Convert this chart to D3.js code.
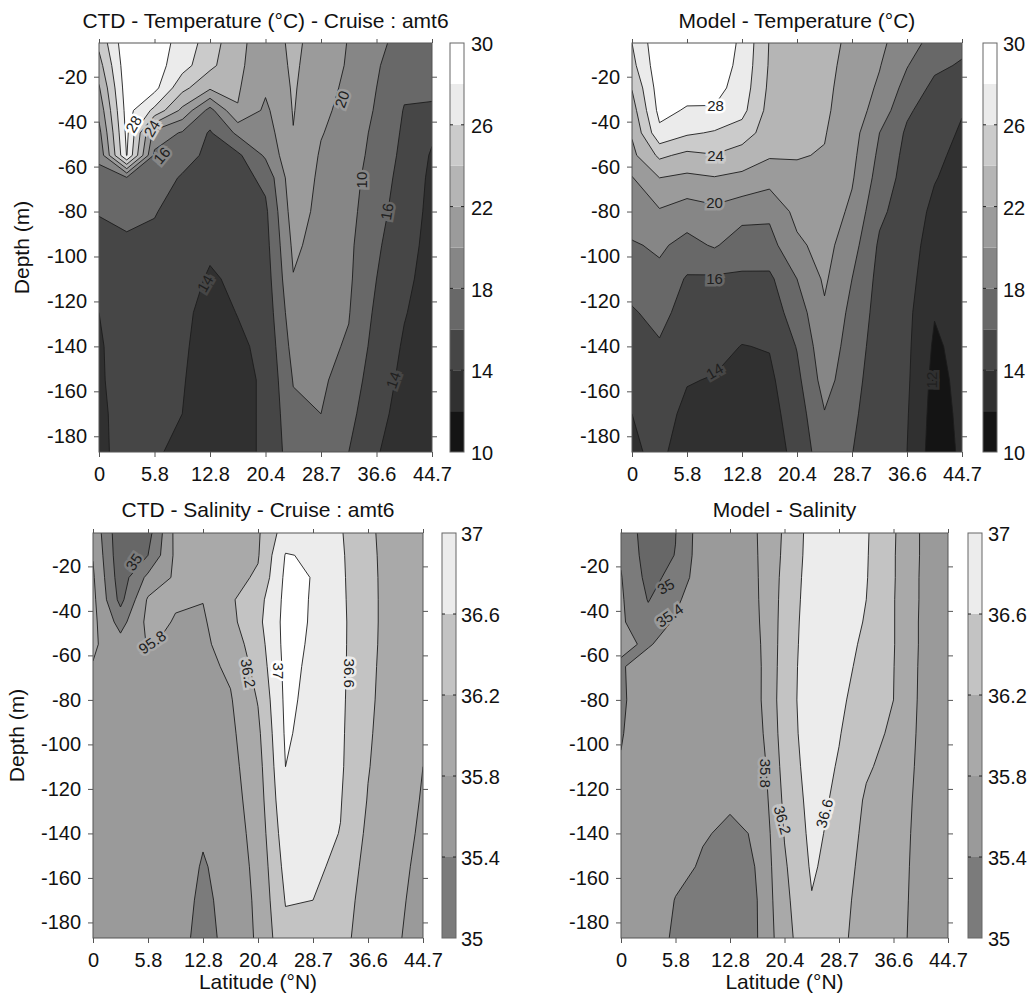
<!DOCTYPE html>
<html>
<head>
<meta charset="utf-8">
<script src="https://cdn.jsdelivr.net/npm/d3@7"></script>
<style>
  body { margin: 0; background: #fff; }
  svg { display: block; font-family: "Liberation Sans", Arial, sans-serif; }
</style>
</head>
<body>
<svg id="chart" width="1030" height="998"></svg>
<script>
// station latitudes (tick every second station) and sample depths (m)
const latLabels = ["0", "5.8", "12.8", "20.4", "28.7", "36.6", "44.7"];
const depths = [5, 15, 25, 35, 45, 55, 65, 80, 95, 110, 125, 140, 155, 170, 187];
const depthTicks = [-20, -40, -60, -80, -100, -120, -140, -160, -180];

const tempLevels = [10, 12, 14, 16, 18, 20, 22, 24, 26, 28];
const tempColors = ["#141414", "#303030", "#464646", "#686868", "#868686", "#9b9b9b", "#b5b5b5", "#cbcbcb", "#ebebeb", "#ffffff"];
const tempBar = [10, 14, 18, 22, 26, 30];

const salLevels = [35, 35.4, 35.8, 36.2, 36.6, 37];
const salBelow = "#676767";
const salColors = ["#7b7b7b", "#9a9a9a", "#a9a9a9", "#c3c3c3", "#ececec", "#ffffff"];
const salBar = [35, 35.4, 35.8, 36.2, 36.6, 37];

// one array per station, values from surface (5 m) down to 187 m
const ctdTemp = [
  [24.5, 23.2, 21.8, 20.6, 19.4, 18.4, 17.4, 16.1, 15.4, 15.0, 14.0, 13.8, 13.8, 13.7, 13.7],
  [29.5, 29.3, 29.1, 28.8, 28.5, 28.1, 17.8, 16.6, 15.6, 15.3, 15.1, 14.9, 14.7, 14.6, 14.5],
  [29.0, 28.9, 28.6, 25.5, 19.2, 17.6, 17.0, 16.1, 15.6, 15.3, 15.0, 14.7, 14.4, 14.2, 14.1],
  [27.3, 26.8, 24.6, 21.5, 17.8, 16.8, 15.8, 15.3, 15.0, 14.7, 14.4, 14.3, 14.15, 14.0, 13.8],
  [25.0, 24.5, 22.3, 17.3, 15.8, 15.5, 15.2, 14.8, 14.3, 13.8, 13.4, 13.1, 12.9, 12.8, 12.7],
  [22.5, 22.4, 22.2, 21.9, 18.4, 15.6, 15.2, 14.9, 14.6, 14.3, 14.05, 13.7, 13.6, 13.7, 13.8],
  [21.0, 20.8, 20.3, 19.6, 19.0, 18.3, 16.5, 15.6, 15.3, 15.0, 14.7, 14.4, 14.2, 14.15, 14.1],
  [22.4, 22.3, 22.2, 22.1, 21.95, 21.7, 21.4, 21.0, 20.4, 19.9, 19.3, 18.7, 18.1, 17.6, 17.2],
  [21.2, 21.0, 20.7, 20.4, 20.1, 19.8, 19.6, 19.4, 19.2, 19.0, 18.8, 18.5, 18.3, 18.0, 17.6],
  [19.9, 19.8, 19.6, 19.4, 19.2, 19.0, 18.8, 18.6, 18.4, 18.3, 18.1, 17.8, 17.2, 16.6, 16.0],
  [18.4, 18.2, 18.0, 17.8, 17.5, 17.3, 17.0, 16.7, 16.3, 16.0, 15.6, 15.2, 14.8, 14.5, 14.1],
  [17.4, 16.8, 16.3, 15.9, 15.7, 15.5, 15.3, 15.0, 14.7, 14.4, 14.1, 13.8, 13.6, 13.4, 13.3],
  [17.0, 16.7, 16.3, 15.8, 14.3, 13.8, 13.6, 13.5, 13.4, 13.3, 13.2, 13.2, 13.1, 13.1, 13.0]
];

const modelTemp = [
  [26.0, 25.4, 24.1, 23.1, 22.2, 21.5, 19.9, 19.1, 17.8, 16.8, 15.8, 15.2, 14.6, 14.0, 13.8],
  [29.5, 29.3, 29.0, 28.6, 27.5, 24.4, 22.0, 19.8, 18.3, 17.5, 16.6, 15.8, 15.2, 14.7, 14.3],
  [29.6, 29.4, 28.8, 27.8, 26.3, 23.5, 21.6, 19.0, 17.4, 15.8, 15.2, 14.7, 14.1, 13.6, 13.3],
  [29.5, 29.2, 28.7, 27.8, 25.8, 23.9, 21.9, 19.5, 18.2, 15.7, 15.0, 14.5, 13.9, 13.5, 13.2],
  [27.6, 27.4, 27.1, 26.6, 25.1, 23.0, 21.6, 18.7, 17.0, 15.7, 14.8, 13.95, 13.5, 13.2, 13.0],
  [23.9, 23.8, 23.6, 23.3, 22.9, 22.2, 20.8, 18.4, 17.3, 15.6, 14.9, 14.1, 13.6, 13.3, 13.0],
  [23.2, 23.1, 22.9, 22.7, 22.4, 22.1, 21.6, 20.6, 19.6, 18.0, 17.0, 16.1, 15.5, 15.0, 14.6],
  [22.6, 22.5, 22.4, 22.3, 22.1, 21.9, 21.6, 21.2, 20.7, 20.3, 19.7, 19.3, 18.8, 17.9, 17.2],
  [21.6, 21.4, 21.2, 21.0, 20.8, 20.5, 20.2, 19.6, 18.8, 18.0, 17.5, 17.1, 16.7, 16.4, 16.05],
  [20.3, 20.1, 19.7, 19.2, 18.0, 17.6, 17.2, 16.4, 15.7, 15.4, 15.2, 15.0, 14.9, 14.7, 14.5],
  [19.2, 18.1, 17.3, 16.3, 15.7, 15.4, 15.2, 15.0, 14.8, 14.7, 14.5, 14.4, 14.3, 14.15, 14.0],
  [17.0, 16.4, 15.5, 15.0, 14.7, 14.4, 14.1, 13.6, 13.2, 12.7, 12.1, 11.7, 11.4, 11.2, 11.0],
  [16.5, 15.8, 15.0, 14.1, 13.8, 13.5, 13.3, 13.1, 12.9, 12.8, 12.7, 12.6, 12.5, 12.4, 12.3]
];

const ctdSal = [
  [35.7, 35.78, 35.85, 35.9, 35.9, 35.86, 35.78, 35.72, 35.68, 35.66, 35.65, 35.65, 35.65, 35.65, 35.65],
  [34.7, 34.72, 34.78, 34.88, 35.25, 35.55, 35.62, 35.66, 35.68, 35.7, 35.7, 35.7, 35.7, 35.7, 35.7],
  [34.85, 35.0, 35.5, 35.85, 35.9, 35.82, 35.75, 35.72, 35.72, 35.73, 35.74, 35.72, 35.68, 35.65, 35.65],
  [35.9, 35.88, 35.86, 35.83, 35.78, 35.75, 35.74, 35.74, 35.74, 35.74, 35.73, 35.7, 35.66, 35.62, 35.58],
  [35.95, 35.92, 35.88, 35.81, 35.75, 35.72, 35.7, 35.66, 35.62, 35.58, 35.52, 35.45, 35.36, 35.3, 35.25],
  [36.0, 36.02, 36.08, 36.15, 36.1, 35.98, 35.86, 35.77, 35.72, 35.68, 35.64, 35.6, 35.58, 35.56, 35.54],
  [36.15, 36.17, 36.25, 36.45, 36.5, 36.42, 36.35, 36.22, 36.12, 36.05, 36.0, 35.95, 35.9, 35.87, 35.85],
  [36.8, 37.02, 37.08, 37.1, 37.12, 37.12, 37.1, 37.08, 37.05, 37.0, 36.92, 36.82, 36.72, 36.62, 36.5],
  [36.85, 36.96, 36.99, 36.98, 36.97, 36.95, 36.93, 36.9, 36.86, 36.82, 36.77, 36.72, 36.67, 36.6, 36.5],
  [36.63, 36.65, 36.66, 36.67, 36.68, 36.68, 36.68, 36.67, 36.66, 36.65, 36.62, 36.59, 36.52, 36.45, 36.38],
  [36.3, 36.32, 36.33, 36.33, 36.33, 36.32, 36.3, 36.28, 36.25, 36.22, 36.18, 36.12, 36.05, 35.98, 35.92],
  [35.95, 35.96, 35.97, 35.98, 35.98, 35.98, 35.98, 35.97, 35.96, 35.95, 35.93, 35.9, 35.87, 35.85, 35.83],
  [35.9, 35.9, 35.9, 35.9, 35.9, 35.88, 35.86, 35.84, 35.82, 35.8, 35.78, 35.76, 35.74, 35.72, 35.7]
];

const modelSal = [
  [35.3, 35.36, 35.42, 35.45, 35.45, 35.43, 35.38, 35.36, 35.38, 35.42, 35.45, 35.48, 35.5, 35.52, 35.54],
  [34.8, 34.82, 34.88, 34.98, 35.15, 35.38, 35.5, 35.55, 35.58, 35.6, 35.6, 35.6, 35.6, 35.6, 35.6],
  [34.99, 35.01, 35.12, 35.33, 35.45, 35.5, 35.55, 35.58, 35.6, 35.6, 35.59, 35.54, 35.48, 35.39, 35.34],
  [35.64, 35.65, 35.66, 35.66, 35.66, 35.66, 35.65, 35.62, 35.58, 35.52, 35.47, 35.42, 35.37, 35.33, 35.3],
  [35.7, 35.7, 35.7, 35.7, 35.7, 35.7, 35.68, 35.64, 35.57, 35.49, 35.43, 35.36, 35.3, 35.28, 35.27],
  [35.8, 35.79, 35.78, 35.77, 35.75, 35.72, 35.7, 35.7, 35.64, 35.54, 35.48, 35.42, 35.41, 35.4, 35.39],
  [36.25, 36.27, 36.3, 36.32, 36.34, 36.36, 36.38, 36.4, 36.38, 36.34, 36.28, 36.22, 36.15, 36.1, 36.05],
  [36.75, 36.76, 36.78, 36.8, 36.82, 36.83, 36.84, 36.84, 36.82, 36.78, 36.74, 36.7, 36.65, 36.58, 36.52],
  [36.85, 36.85, 36.84, 36.82, 36.8, 36.77, 36.73, 36.67, 36.62, 36.57, 36.52, 36.47, 36.42, 36.37, 36.32],
  [36.64, 36.63, 36.62, 36.6, 36.57, 36.52, 36.48, 36.42, 36.35, 36.25, 36.15, 36.1, 36.05, 36.0, 35.97],
  [36.24, 36.23, 36.23, 36.22, 36.22, 36.22, 36.21, 36.2, 36.13, 36.06, 36.0, 35.97, 35.94, 35.92, 35.9],
  [35.78, 35.78, 35.77, 35.77, 35.76, 35.76, 35.75, 35.74, 35.73, 35.72, 35.71, 35.7, 35.7, 35.7, 35.7],
  [35.7, 35.7, 35.7, 35.7, 35.7, 35.69, 35.68, 35.67, 35.66, 35.65, 35.64, 35.63, 35.62, 35.62, 35.62]
];

// contour labels: [station index, depth, text, rotation, level]
const ctdTempLabels = [[1.24, 41, "28", -60, 28], [1.9, 43, "24", -60, 24], [2.26, 55, "16", -50, 18],
  [8.75, 30, "20", -70, 20], [9.47, 66, "10", -90, 18], [10.37, 80, "16", -80, 16],
  [10.6, 155, "14", -70, 14], [3.82, 112, "14", -60, 14]];
const modelTempLabels = [[3.04, 33, "28", 0, 28], [3.04, 55, "24", 0, 24], [3.0, 76, "20", 0, 20],
  [3.0, 110, "16", 0, 16], [3.0, 151, "14", -30, 14], [10.9, 155, "12", -90, 12]];
const ctdSalLabels = [[1.48, 18, "35", -55, 35], [2.15, 54, "95.8", -35, 35.8], [5.65, 68, "36.2", 80, 36.2],
  [6.74, 67, "37", 90, 37], [9.31, 68, "36.6", 90, 36.6]];
const modelSalLabels = [[1.64, 29, "35", -30, 35], [1.78, 42, "35.4", -35, 35.4], [5.29, 113, "35.8", 90, 35.8],
  [5.93, 134, "36.2", 75, 36.2], [7.46, 131, "36.6", -75, 36.6]];

const svg = d3.select("#chart");

const panels = [
  { id: "tl", title: "CTD - Temperature (°C) - Cruise : amt6", grid: ctdTemp, labels: ctdTempLabels, temp: true,
    x0: 99, x1: 432, y0: 43, y1: 452, barX: 450, barLabelX: 471, titleY: 28, depthLabelX: 29, latLabel: false },
  { id: "tr", title: "Model - Temperature (°C)", grid: modelTemp, labels: modelTempLabels, temp: true,
    x0: 632, x1: 962, y0: 43, y1: 452, barX: 983, barLabelX: 1003, titleY: 28, depthLabelX: null, latLabel: false },
  { id: "bl", title: "CTD - Salinity - Cruise : amt6", grid: ctdSal, labels: ctdSalLabels, temp: false,
    x0: 93, x1: 423, y0: 533, y1: 938, barX: 442, barLabelX: 461, titleY: 517, depthLabelX: 24, latLabel: true },
  { id: "br", title: "Model - Salinity", grid: modelSal, labels: modelSalLabels, temp: false,
    x0: 621, x1: 948, y0: 533, y1: 938, barX: 968, barLabelX: 988, titleY: 517, depthLabelX: null, latLabel: true }
];

function drawPanel(p) {
  const g = svg.append("g");
  const n = p.grid.length, m = depths.length;
  const levels = p.temp ? tempLevels : salLevels;
  const colors = p.temp ? tempColors : salColors;
  const base = p.temp ? tempColors[0] : salBelow;

  const kx = d3.scaleLinear().domain([0, n - 1]).range([p.x0, p.x1]);
  const y = d3.scaleLinear().domain([-5, -187]).range([p.y0, p.y1]);
  const rowDepth = d3.scaleLinear().domain(d3.range(m)).range(depths);

  const values = [];
  for (let j = 0; j < m; j++) for (let i = 0; i < n; i++) values.push(p.grid[i][j]);

  // grid cell centres sit at +0.5 in d3.contours coordinates
  const proj = d3.geoTransform({
    point: function(gx, gy) { this.stream.point(kx(gx - 0.5), y(-rowDepth(gy - 0.5))); }
  });
  const path = d3.geoPath(proj);
  const contours = d3.contours().size([n, m]).thresholds(levels)(values);

  g.append("clipPath").attr("id", "clip-" + p.id)
    .append("rect").attr("x", p.x0).attr("y", p.y0)
    .attr("width", p.x1 - p.x0).attr("height", p.y1 - p.y0);

  const plot = g.append("g").attr("clip-path", "url(#clip-" + p.id + ")");
  plot.append("rect").attr("x", p.x0).attr("y", p.y0)
    .attr("width", p.x1 - p.x0).attr("height", p.y1 - p.y0).attr("fill", base);
  plot.selectAll("path.band").data(contours).join("path")
    .attr("class", "band").attr("d", path)
    .attr("fill", (d, i) => colors[i]).attr("fill-rule", "evenodd");
  plot.selectAll("path.iso").data(contours).join("path")
    .attr("class", "iso").attr("d", path)
    .attr("fill", "none").attr("stroke", "#1c1c1c").attr("stroke-width", 0.9);

  // contour labels
  plot.selectAll("text.clab").data(p.labels).join("text")
    .attr("class", "clab")
    .attr("transform", d => `translate(${kx(d[0])},${y(-d[1])}) rotate(${d[3]})`)
    .attr("text-anchor", "middle").attr("dominant-baseline", "central")
    .attr("font-size", 15)
    .attr("fill", "#202020")
    .attr("stroke", d => colors[Math.max(0, levels.indexOf(d[4]))])
    .attr("stroke-width", 5).attr("paint-order", "stroke")
    .text(d => d[2]);

  // frame
  g.append("rect").attr("x", p.x0).attr("y", p.y0)
    .attr("width", p.x1 - p.x0).attr("height", p.y1 - p.y0)
    .attr("fill", "none").attr("stroke", "#555").attr("stroke-width", 1);

  const tickIdx = d3.range(0, n, 2);
  const styleAxis = sel => {
    sel.select(".domain").remove();
    sel.selectAll(".tick line").attr("stroke", "#555");
    sel.selectAll("text").attr("font-size", 20).attr("font-family", null).attr("fill", "#111");
  };

  g.append("g").attr("transform", `translate(0,${p.y1})`)
    .call(d3.axisBottom(kx).tickValues(tickIdx).tickFormat((d, i) => latLabels[i])
      .tickSize(5).tickPadding(10).tickSizeOuter(0))
    .call(styleAxis);
  g.append("g").attr("transform", `translate(0,${p.y0})`)
    .call(d3.axisTop(kx).tickValues(tickIdx).tickFormat("").tickSize(4).tickSizeOuter(0))
    .call(styleAxis);
  g.append("g").attr("transform", `translate(${p.x0},0)`)
    .call(d3.axisLeft(y).tickValues(depthTicks).tickFormat(d => String(d))
      .tickSize(5).tickPadding(7).tickSizeOuter(0))
    .call(styleAxis);
  g.append("g").attr("transform", `translate(${p.x1},0)`)
    .call(d3.axisRight(y).tickValues(depthTicks).tickFormat("").tickSize(5).tickSizeOuter(0))
    .call(styleAxis);

  // title & axis titles
  g.append("text").attr("x", (p.x0 + p.x1) / 2).attr("y", p.titleY)
    .attr("text-anchor", "middle").attr("font-size", 21).attr("fill", "#111").text(p.title);
  if (p.depthLabelX !== null) {
    g.append("text")
      .attr("transform", `translate(${p.depthLabelX},${(p.y0 + p.y1) / 2}) rotate(-90)`)
      .attr("text-anchor", "middle").attr("font-size", 21).attr("fill", "#111").text("Depth (m)");
  }
  if (p.latLabel) {
    g.append("text").attr("x", (p.x0 + p.x1) / 2).attr("y", 989)
      .attr("text-anchor", "middle").attr("font-size", 21).attr("fill", "#111").text("Latitude (°N)");
  }

  // colour bar
  const barTicks = p.temp ? tempBar : salBar;
  const lo = barTicks[0], hi = barTicks[barTicks.length - 1];
  const by = d3.scaleLinear().domain([lo, hi]).range([p.y1, p.y0]);
  const bandLevels = levels.concat([Infinity]);
  const bands = [];
  for (let i = 0; i < levels.length; i++) {
    const a = levels[i], b = Math.min(bandLevels[i + 1], hi);
    if (a < hi) bands.push({ a: a, b: b, c: colors[i] });
  }
  const bw = 14;
  g.selectAll("rect.bar").data(bands).join("rect").attr("class", "bar")
    .attr("x", p.barX).attr("width", bw)
    .attr("y", d => by(d.b)).attr("height", d => by(d.a) - by(d.b))
    .attr("fill", d => d.c);
  g.append("rect").attr("x", p.barX).attr("y", p.y0).attr("width", bw).attr("height", p.y1 - p.y0)
    .attr("fill", "none").attr("stroke", "#666").attr("stroke-width", 1);
  const inner = barTicks.slice(1, -1);
  g.selectAll("line.btl").data(inner).join("line").attr("class", "btl")
    .attr("x1", p.barX).attr("x2", p.barX + 3).attr("y1", d => by(d)).attr("y2", d => by(d))
    .attr("stroke", "#222");
  g.selectAll("line.btr").data(inner).join("line").attr("class", "btr")
    .attr("x1", p.barX + bw - 3).attr("x2", p.barX + bw).attr("y1", d => by(d)).attr("y2", d => by(d))
    .attr("stroke", "#222");
  g.selectAll("text.blab").data(barTicks).join("text").attr("class", "blab")
    .attr("x", p.barLabelX).attr("y", d => by(d) + 3)
    .attr("dominant-baseline", "middle").attr("font-size", 20).attr("fill", "#111")
    .text(d => String(d));
}

panels.forEach(drawPanel);
</script>
</body>
</html>
